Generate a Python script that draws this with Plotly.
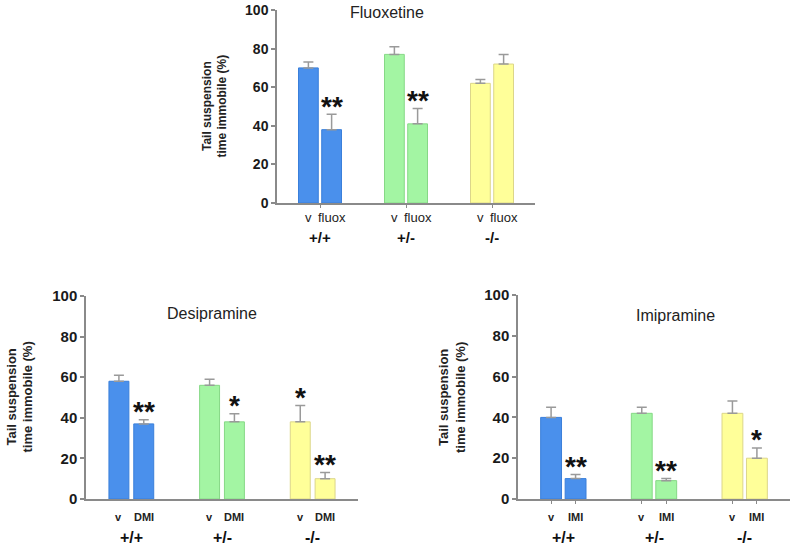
import plotly.graph_objects as go

genotypes = ["+/+", "+/-", "-/-"]
colors = ["#4a90ec", "#a3f5a3", "#ffff99"]
edge_colors = ["#3a7fda", "#86d886", "#dcd68a"]

# Fluoxetine
flu_title = "Fluoxetine"
flu_drug = "fluox"
flu_v = [70, 77, 62]
flu_v_err = [3, 4, 2]
flu_d = [38, 41, 72]
flu_d_err = [8, 8, 5]
flu_stars = ["**", "**", ""]
flu_v_stars = ["", "", ""]

# Desipramine
dmi_title = "Desipramine"
dmi_drug = "DMI"
dmi_v = [58, 56, 38]
dmi_v_err = [3, 3, 8]
dmi_d = [37, 38, 10]
dmi_d_err = [2, 4, 3]
dmi_stars = ["**", "*", "**"]
dmi_v_stars = ["", "", "*"]

# Imipramine
imi_title = "Imipramine"
imi_drug = "IMI"
imi_v = [40, 42, 42]
imi_v_err = [5, 3, 6]
imi_d = [10, 9, 20]
imi_d_err = [2, 1, 5]
imi_stars = ["**", "**", "*"]
imi_v_stars = ["", "", ""]

yticks = [0, 20, 40, 60, 80, 100]
ytitle = "Tail suspension<br>time immobile (%)"

FONT = "Liberation Sans, Arial, sans-serif"
W, H = 800, 552
STAR_GAP = 7.5


def px(x):
    return x / W


def py(y):
    return 1 - y / H


panels = [
    dict(title=flu_title, drug=flu_drug, v=flu_v, ve=flu_v_err, d=flu_d, de=flu_d_err,
         stars=flu_stars, vstars=flu_v_stars,
         xd=[px(277), px(535)], yd=[py(203), py(10)], off=0.135, bw=0.23,
         tick_mode="group", label_bold=False, label_size=13, geno_size=15, ytick_size=14,
         ytitle_x=215, ytitle_size=12, title_x=387, title_y=13, title_size=16,
         lab_y=217, geno_y=237),
    dict(title=dmi_title, drug=dmi_drug, v=dmi_v, ve=dmi_v_err, d=dmi_d, de=dmi_d_err,
         stars=dmi_stars, vstars=dmi_v_stars,
         xd=[px(86), px(358)], yd=[py(499), py(296)], off=0.137, bw=0.22,
         tick_mode="none", label_bold=True, label_size=11, geno_size=16, ytick_size=15,
         ytitle_x=19, ytitle_size=13, title_x=212, title_y=313, title_size=16,
         lab_y=517, geno_y=537),
    dict(title=imi_title, drug=imi_drug, v=imi_v, ve=imi_v_err, d=imi_d, de=imi_d_err,
         stars=imi_stars, vstars=imi_v_stars,
         xd=[px(518), px(790)], yd=[py(499), py(295)], off=0.135, bw=0.23,
         tick_mode="bars", label_bold=True, label_size=11, geno_size=16, ytick_size=15,
         ytitle_x=452, ytitle_size=13, title_x=675, title_y=315, title_size=16,
         lab_y=517, geno_y=537),
]

fig = go.Figure()
annotations = []

for i, p in enumerate(panels):
    sfx = "" if i == 0 else str(i + 1)
    xref = "x" + sfx
    yref = "y" + sfx
    xs, ys, es, cols, ecols = [], [], [], [], []
    for g in range(3):
        xs += [g - p["off"], g + p["off"]]
        ys += [p["v"][g], p["d"][g]]
        es += [p["ve"][g], p["de"][g]]
        cols += [colors[g], colors[g]]
        ecols += [edge_colors[g], edge_colors[g]]
    fig.add_trace(go.Bar(
        x=xs, y=ys, width=p["bw"], xaxis=xref, yaxis=yref,
        marker=dict(color=cols, line=dict(color=ecols, width=1)),
        error_y=dict(type="data", array=es, arrayminus=[0] * 6, symmetric=False,
                     color="#9a9a9a", thickness=1.5, width=5),
        showlegend=False, hoverinfo="skip",
    ))

    if p["tick_mode"] == "group":
        tv, tl = [0, 1, 2], 3
    elif p["tick_mode"] == "bars":
        tv, tl = xs, 3
    else:
        tv, tl = [], 0
    xax = dict(domain=p["xd"], anchor=yref, range=[-0.5, 2.5], showgrid=False, zeroline=False,
               automargin=False,
               showline=True, linecolor="#8a8a8a", linewidth=1.5,
               tickmode="array", tickvals=tv, ticktext=[""] * len(tv),
               ticks="outside" if tl else "", ticklen=tl, tickcolor="#8a8a8a", tickwidth=1)
    yax = dict(domain=p["yd"], anchor=xref, range=[0, 100], showgrid=False, zeroline=False,
               automargin=False, ticklabeloverflow="allow",
               showline=True, linecolor="#8a8a8a", linewidth=1.5,
               tickmode="array", tickvals=yticks, ticks="outside", ticklen=4,
               tickcolor="#8a8a8a", tickwidth=1.5,
               tickfont=dict(family=FONT, size=p["ytick_size"], color="#1a1a1a", weight="bold"))
    fig.update_layout(**{"xaxis" + sfx: xax, "yaxis" + sfx: yax})

    annotations.append(dict(x=px(p["title_x"]), y=py(p["title_y"]), xref="paper", yref="paper",
                            text=p["title"], showarrow=False, xanchor="center", yanchor="middle",
                            font=dict(family=FONT, size=p["title_size"], color="#222")))
    annotations.append(dict(x=px(p["ytitle_x"]), y=(p["yd"][0] + p["yd"][1]) / 2,
                            xref="paper", yref="paper", text=ytitle, textangle=-90,
                            showarrow=False, xanchor="center", yanchor="middle",
                            font=dict(family=FONT, size=p["ytitle_size"], color="#222", weight="bold")))
    for g in range(3):
        lw = "bold" if p["label_bold"] else "normal"
        annotations.append(dict(x=g - p["off"], y=py(p["lab_y"]), xref=xref, yref="paper",
                                text="v", showarrow=False, xanchor="center", yanchor="middle",
                                font=dict(family=FONT, size=p["label_size"], color="#222", weight=lw)))
        annotations.append(dict(x=g + p["off"], y=py(p["lab_y"]), xref=xref, yref="paper",
                                text=p["drug"], showarrow=False, xanchor="center", yanchor="middle",
                                font=dict(family=FONT, size=p["label_size"], color="#222", weight=lw)))
        annotations.append(dict(x=g, y=py(p["geno_y"]), xref=xref, yref="paper",
                                text=genotypes[g], showarrow=False, xanchor="center", yanchor="middle",
                                font=dict(family=FONT, size=p["geno_size"], color="#111", weight="bold")))
        if p["stars"][g]:
            annotations.append(dict(x=g + p["off"], y=p["d"][g] + p["de"][g] + STAR_GAP,
                                    xref=xref, yref=yref,
                                    text=p["stars"][g], showarrow=False, xanchor="center",
                                    yanchor="middle", yshift=-7,
                                    font=dict(family=FONT, size=28, color="#111", weight="bold")))
        if p["vstars"][g]:
            annotations.append(dict(x=g - p["off"], y=p["v"][g] + p["ve"][g] + STAR_GAP,
                                    xref=xref, yref=yref,
                                    text=p["vstars"][g], showarrow=False, xanchor="center",
                                    yanchor="middle", yshift=-7,
                                    font=dict(family=FONT, size=28, color="#111", weight="bold")))

fig.update_layout(
    width=W, height=H, margin=dict(l=0, r=0, t=0, b=0),
    paper_bgcolor="white", plot_bgcolor="white",
    barmode="overlay", annotations=annotations,
)

fig.write_html(
    "out.html",
    config={"displayModeBar": False},
    post_script="document.body.style.margin='0px';document.body.style.overflow='hidden';",
)
